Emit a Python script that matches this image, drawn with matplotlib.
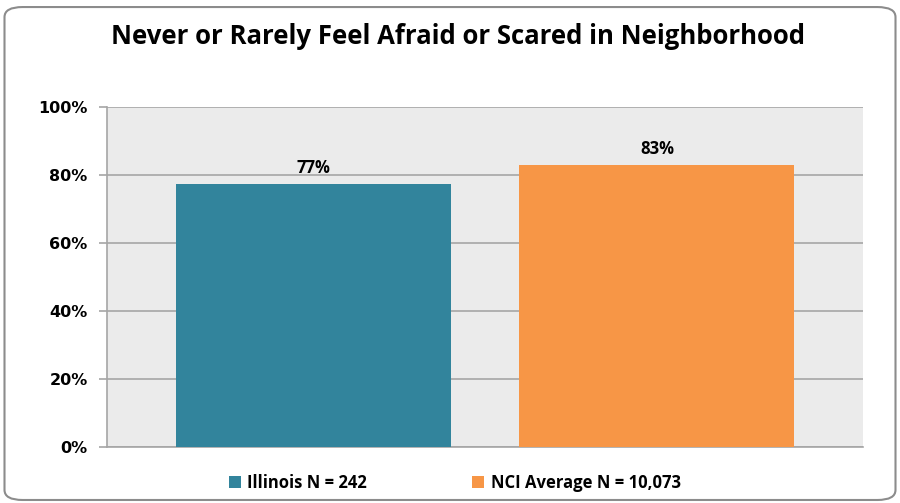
import matplotlib.pyplot as plt
import numpy as np
from matplotlib.patches import FancyBboxPatch

categories = ["Illinois N = 242", "NCI Average N = 10,073"]
values = [77.4, 83.0]
labels = ["77%", "83%"]
colors = ["#32849C", "#F79646"]
yticks = [0, 20, 40, 60, 80, 100]

fig = plt.figure(figsize=(9, 5.03), dpi=100)
ax = fig.add_axes([0.119, 0.111, 0.840, 0.676])

# rounded outer frame
frame = FancyBboxPatch((0.005, 0.006), 0.99, 0.98, boxstyle="round,pad=0,rounding_size=0.02",
                       transform=fig.transFigure, facecolor="white", edgecolor="#8C8C8C",
                       linewidth=1.5, zorder=-10)
fig.patches.append(frame)

x = np.arange(len(categories))
bars = ax.bar(x, values, 0.8, color=colors, label=categories, zorder=3)
for bar, lab in zip(bars, labels):
    ax.text(bar.get_x() + bar.get_width() / 2, bar.get_height() + 2.0, lab,
            ha="center", va="bottom", fontsize=12, fontweight="bold", family="Open Sans")

ax.set_xlim(-0.6, 1.6)
ax.set_ylim(0, 100)
ax.set_facecolor("#EBEBEB")
ax.set_yticks(yticks)
ax.set_yticklabels([f"{t}%" for t in yticks], fontsize=11.5, fontweight="bold", family="DejaVu Sans")
ax.set_xticks([])
ax.yaxis.grid(True, color="#A6A6A6", linewidth=1.2)
ax.set_axisbelow(True)
ax.tick_params(axis="y", length=6, color="#A6A6A6", width=1.2, pad=8)
for s in ["top", "right"]:
    ax.spines[s].set_visible(False)
ax.spines["left"].set_color("#A6A6A6")
ax.spines["bottom"].set_color("#A6A6A6")
ax.spines["left"].set_linewidth(1.2)
ax.spines["bottom"].set_linewidth(1.2)

fig.text(0.509, 0.927, "Never or Rarely Feel Afraid or Scared in Neighborhood", ha="center", va="center",
         fontsize=18.5, fontweight="bold", family="Open Sans")

ax.legend(loc="upper center", bbox_to_anchor=(0.46, -0.035), ncol=2, frameon=False,
          prop={"family": "Open Sans", "weight": "bold", "size": 12},
          handlelength=0.7, handleheight=0.7, handletextpad=0.4, columnspacing=6.3)

fig.savefig("out.png", dpi=100)
